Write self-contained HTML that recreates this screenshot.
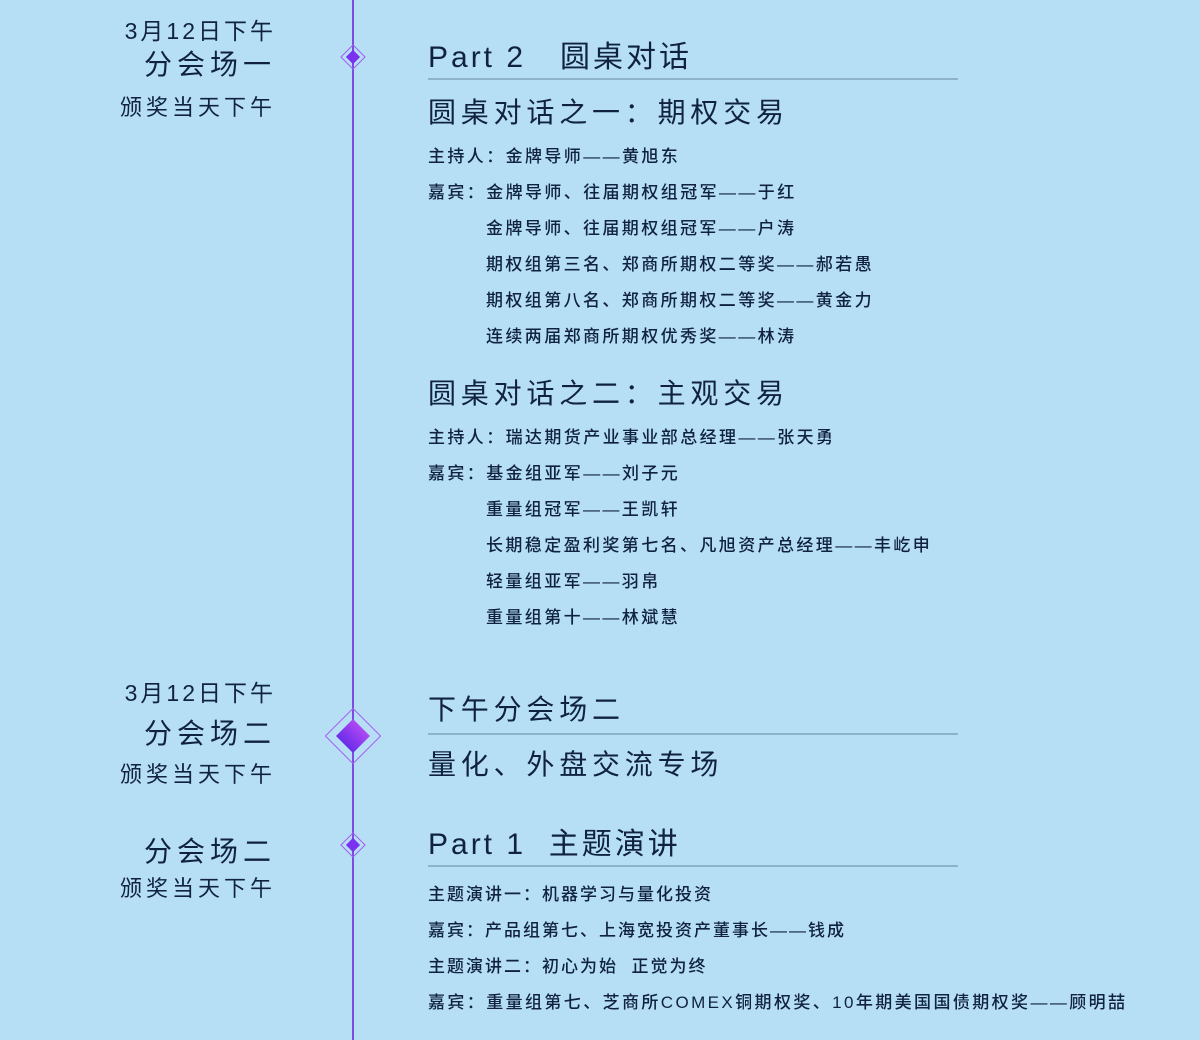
<!DOCTYPE html>
<html><head><meta charset="utf-8"><style>
body{margin:0;width:1200px;height:1040px;background:#b6dff6;position:relative;overflow:hidden;font-family:"Liberation Sans","Noto Sans CJK SC",sans-serif;color:#10223f}
.t{position:absolute;white-space:nowrap;line-height:1}
.r{text-align:right;right:924px}
.s{font-size:17px;letter-spacing:2.4px;font-weight:500;left:428px}
.s2{left:486px}
.h{font-size:28px;letter-spacing:4.8px;left:428px}
.hr{position:absolute;left:428px;width:530px;height:2px;background:#8eb2cc}
.line{position:absolute;left:352px;top:0;width:2px;height:1040px;background:#7a4fe0}
.d{position:absolute;transform:rotate(45deg);box-sizing:border-box}
</style></head><body>
<div class="line"></div>
<div class="d" style="left:344px;top:48px;width:18px;height:18px;border:1px solid #a35cf0"></div>
<div class="d" style="left:348px;top:52px;width:10px;height:10px;background:#7a32f0"></div>
<div class="d" style="left:333px;top:716px;width:40px;height:40px;border:1px solid #a35cf0"></div>
<div class="d" style="left:341px;top:724px;width:24px;height:24px;background:linear-gradient(#b048f5,#6a2ce8)"></div>
<div class="d" style="left:344px;top:836px;width:18px;height:18px;border:1px solid #a35cf0"></div>
<div class="d" style="left:348px;top:840px;width:10px;height:10px;background:#7a32f0"></div>

<div class="t r" style="top:20px;font-size:23px;letter-spacing:3px">3月12日下午</div>
<div class="t r" style="top:51px;font-size:28px;letter-spacing:5px">分会场一</div>
<div class="t r" style="top:97px;font-size:22px;letter-spacing:4px">颁奖当天下午</div>
<div class="t r" style="top:682px;font-size:23px;letter-spacing:3px">3月12日下午</div>
<div class="t r" style="top:720px;font-size:28px;letter-spacing:5px">分会场二</div>
<div class="t r" style="top:764px;font-size:22px;letter-spacing:4px">颁奖当天下午</div>
<div class="t r" style="top:838px;font-size:28px;letter-spacing:5px">分会场二</div>
<div class="t r" style="top:878px;font-size:22px;letter-spacing:4px">颁奖当天下午</div>

<div class="t h" style="top:43px;font-size:30px;letter-spacing:3px">Part 2&nbsp;&nbsp;&nbsp;圆桌对话</div>
<div class="hr" style="top:78px"></div>
<div class="t h" style="top:99px">圆桌对话之一：期权交易</div>
<div class="t s" style="top:148px">主持人：金牌导师——黄旭东</div>
<div class="t s" style="top:184px">嘉宾：金牌导师、往届期权组冠军——于红</div>
<div class="t s s2" style="top:220px">金牌导师、往届期权组冠军——户涛</div>
<div class="t s s2" style="top:256px">期权组第三名、郑商所期权二等奖——郝若愚</div>
<div class="t s s2" style="top:292px">期权组第八名、郑商所期权二等奖——黄金力</div>
<div class="t s s2" style="top:328px">连续两届郑商所期权优秀奖——林涛</div>
<div class="t h" style="top:380px">圆桌对话之二：主观交易</div>
<div class="t s" style="top:429px">主持人：瑞达期货产业事业部总经理——张天勇</div>
<div class="t s" style="top:465px">嘉宾：基金组亚军——刘子元</div>
<div class="t s s2" style="top:501px">重量组冠军——王凯轩</div>
<div class="t s s2" style="top:537px">长期稳定盈利奖第七名、凡旭资产总经理——丰屹申</div>
<div class="t s s2" style="top:573px">轻量组亚军——羽帛</div>
<div class="t s s2" style="top:609px">重量组第十——林斌慧</div>

<div class="t h" style="top:696px">下午分会场二</div>
<div class="hr" style="top:733px"></div>
<div class="t h" style="top:751px">量化、外盘交流专场</div>
<div class="t h" style="top:830px;font-size:30px;letter-spacing:3px">Part 1&nbsp;&nbsp;主题演讲</div>
<div class="hr" style="top:865px"></div>
<div class="t s" style="top:886px;letter-spacing:2px">主题演讲一：机器学习与量化投资</div>
<div class="t s" style="top:922px;letter-spacing:2px">嘉宾：产品组第七、上海宽投资产董事长——钱成</div>
<div class="t s" style="top:958px;letter-spacing:2px">主题演讲二：初心为始&nbsp;&nbsp;正觉为终</div>
<div class="t s" style="top:994px;letter-spacing:2.4px">嘉宾：重量组第七、芝商所COMEX铜期权奖、10年期美国国债期权奖——顾明喆</div>
</body></html>
